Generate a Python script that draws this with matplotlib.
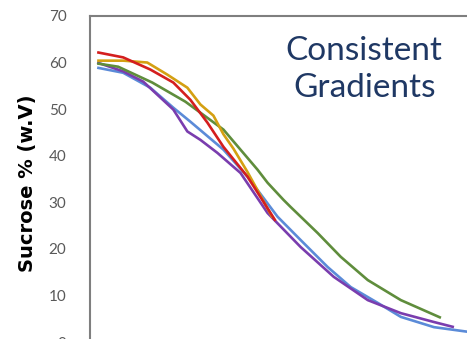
import matplotlib.pyplot as plt

# x positions along the gradient (arbitrary fraction units), y = sucrose %
blue_x = [0.7, 3.3, 6.0, 8.3, 10.0, 13.3, 15.7, 18.7, 21.0, 23.7, 26.0, 28.7, 31.0, 34.3, 37.7]
blue_y = [58.9, 57.8, 54.6, 50.3, 47.3, 41.3, 35.5, 26.9, 21.9, 16.1, 11.8, 8.4, 5.4, 3.2, 2.2]

purple_x = [0.7, 3.3, 5.3, 8.3, 9.7, 11.0, 12.7, 15.0, 17.7, 21.0, 24.3, 27.7, 31.0, 34.3, 36.3]
purple_y = [60.0, 58.1, 55.9, 49.9, 45.2, 43.4, 40.6, 36.3, 27.7, 20.4, 14.0, 9.0, 6.2, 4.3, 3.2]

green_x = [0.7, 2.8, 6.2, 9.5, 13.3, 15.0, 16.7, 17.7, 19.3, 20.0, 22.7, 25.0, 27.7, 31.0, 35.0]
green_y = [59.8, 59.1, 55.7, 51.6, 45.6, 41.3, 37.0, 34.2, 30.5, 29.0, 23.4, 18.3, 13.3, 9.0, 5.2]

gold_x = [0.7, 3.3, 5.7, 7.7, 9.7, 11.0, 12.3, 13.3, 14.3, 15.7, 18.2]
gold_y = [60.4, 60.4, 60.0, 57.4, 54.6, 51.0, 48.6, 44.6, 41.5, 36.5, 26.7]

red_x = [0.7, 3.3, 6.0, 8.3, 10.0, 11.7, 13.3, 15.7, 18.0, 18.5]
red_y = [62.2, 61.1, 58.5, 55.7, 52.0, 47.1, 41.9, 35.5, 27.7, 26.0]

series = [
    (blue_x, blue_y, "#5B8BD8"),
    (purple_x, purple_y, "#7A3DAE"),
    (green_x, green_y, "#5F8D3C"),
    (gold_x, gold_y, "#D4A012"),
    (red_x, red_y, "#D41E1E"),
]
yticks = [0, 10, 20, 30, 40, 50, 60, 70]

fig = plt.figure(figsize=(4.67, 3.39), dpi=100)
ax = fig.add_axes([0.193, -0.009, 0.88, 0.962])

for x, y, c in series:
    ax.plot(x, y, color=c, linewidth=1.9, solid_capstyle="butt")

ax.set_xlim(0, 41)
ax.set_ylim(0, 70)
ax.set_yticks(yticks)
ax.set_xticks([])
ax.tick_params(axis="y", length=0, pad=17, labelsize=11, labelcolor="#595959")
for lab in ax.get_yticklabels():
    lab.set_fontfamily("Lato")
ax.spines["right"].set_visible(False)
ax.spines["bottom"].set_visible(False)
for s in ("left", "top"):
    ax.spines[s].set_color("#7F7F7F")
    ax.spines[s].set_linewidth(1.5)

fig.text(0.058, 0.46, "Sucrose % (w.V)", rotation=90, ha="center", va="center",
         fontsize=14, fontweight="bold", family="DejaVu Sans", color="black")
fig.text(0.78, 0.795, "Consistent\nGradients", ha="center", va="center",
         fontsize=24, family="Lato", color="#1F3864", linespacing=1.3)

fig.savefig("out.png", dpi=100)
